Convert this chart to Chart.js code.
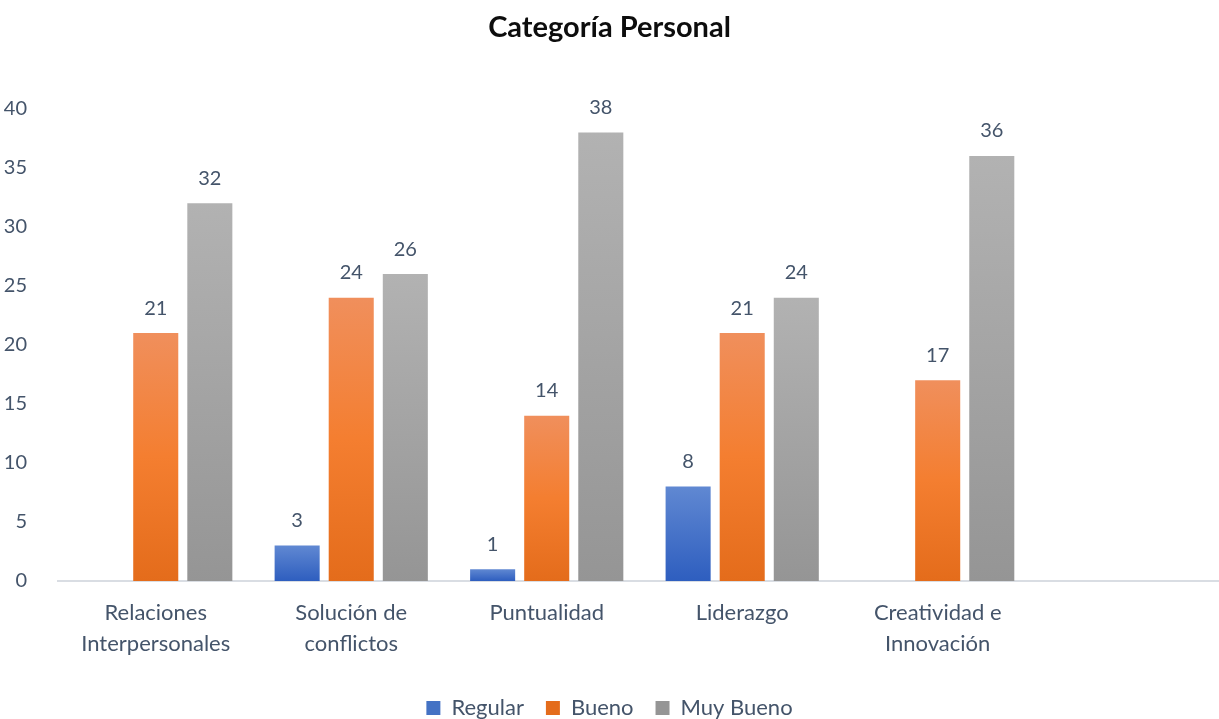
<!DOCTYPE html>
<html lang="es">
<head>
<meta charset="utf-8">
<title>Categoría Personal</title>
<script src="https://cdn.jsdelivr.net/npm/chart.js@4.4.1/dist/chart.umd.min.js"></script>
<style>
  html, body { margin: 0; padding: 0; background: #fff; }
  #wrap { width: 1219px; height: 719px; position: relative; }
</style>
</head>
<body>
<div id="wrap"><canvas id="chart"></canvas></div>
<script>
// datos
const categories = [['Relaciones', 'Interpersonales'], ['Solución de', 'conflictos'], ['Puntualidad'], ['Liderazgo'], ['Creatividad e', 'Innovación']];
const seriesNames = ['Regular', 'Bueno', 'Muy Bueno'];
const regular = [null, 3, 1, 8, null];
const bueno = [21, 24, 14, 21, 17];
const muyBueno = [32, 26, 38, 24, 36];
const yMax = 40;
const yStep = 5;

const textColor = '#44546A';
const fontFamily = 'Lato, "Open Sans", sans-serif';

// degradado por barra, claro arriba y oscuro abajo
function barGradient(stops, flat) {
    return (c) => {
        const chart = c.chart;
        if (c.type !== 'data' || !chart.chartArea || c.parsed == null || c.parsed.y == null) return flat;
        const y = chart.scales.y;
        const top = y.getPixelForValue(c.parsed.y);
        const bottom = y.getPixelForValue(0);
        if (!isFinite(top) || bottom - top < 1) return flat;
        const g = chart.ctx.createLinearGradient(0, top, 0, bottom);
        stops.forEach(s => g.addColorStop(s[0], s[1]));
        return g;
    };
}

const toPoints = arr => arr.map((v, i) => ({ x: i, y: v }));

const valueLabels = {
    id: 'valueLabels',
    afterDatasetsDraw(chart) {
        const ctx = chart.ctx;
        ctx.save();
        ctx.font = '20px ' + fontFamily;
        ctx.fillStyle = textColor;
        ctx.textAlign = 'center';
        ctx.textBaseline = 'middle';
        chart.data.datasets.forEach((ds, i) => {
            const meta = chart.getDatasetMeta(i);
            meta.data.forEach((bar, j) => {
                const v = ds.data[j].y;
                if (v == null) return;
                ctx.fillText(String(v), bar.x, bar.y - 25);
            });
        });
        ctx.restore();
    }
};

new Chart(document.getElementById('chart'), {
    type: 'bar',
    data: {
        datasets: [
            {
                label: seriesNames[0],
                data: toPoints(regular),
                backgroundColor: barGradient([[0, '#6088D2'], [1, '#2E5EBF']], '#4472C4')
            },
            {
                label: seriesNames[1],
                data: toPoints(bueno),
                backgroundColor: barGradient([[0, '#F08F5C'], [0.5, '#F47E30'], [1, '#E46C1B']], '#ED7D31')
            },
            {
                label: seriesNames[2],
                data: toPoints(muyBueno),
                backgroundColor: barGradient([[0, '#B2B2B2'], [1, '#959595']], '#A5A5A5')
            }
        ]
    },
    options: {
        responsive: true,
        maintainAspectRatio: false,
        animation: false,
        categoryPercentage: 0.83,
        barPercentage: 0.833,
        layout: { padding: { left: 0, right: 0, top: 0, bottom: -10 } },
        plugins: {
            title: {
                display: true,
                text: 'Categoría Personal',
                color: '#0D0D0D',
                font: { family: fontFamily, size: 29, weight: 'bold', lineHeight: 1.2 },
                padding: { top: 10, bottom: 64 }
            },
            legend: {
                position: 'bottom',
                labels: {
                    color: textColor,
                    font: { family: fontFamily, size: 22 },
                    boxWidth: 14,
                    boxHeight: 14,
                    padding: 22
                }
            },
            tooltip: { enabled: false }
        },
        scales: {
            x: {
                type: 'linear',
                offset: false,
                min: -0.5,
                max: 5.439,
                grid: { display: false },
                border: { display: true, color: '#D9DDE3', width: 2 },
                ticks: {
                    stepSize: 1,
                    includeBounds: false,
                    autoSkip: false,
                    maxRotation: 0,
                    color: textColor,
                    font: { family: fontFamily, size: 22, lineHeight: 1.38 },
                    padding: 9,
                    callback: (v) => (Number.isInteger(v) && categories[v]) ? categories[v] : ''
                },
                afterFit: (s) => { s.height = 94; }
            },
            y: {
                min: 0,
                max: yMax,
                grid: { display: false },
                border: { display: false },
                ticks: {
                    stepSize: yStep,
                    color: textColor,
                    font: { family: fontFamily, size: 20 },
                    padding: 23
                },
                afterFit: (s) => { s.width = 58; }
            }
        }
    },
    plugins: [valueLabels]
});
</script>
</body>
</html>
